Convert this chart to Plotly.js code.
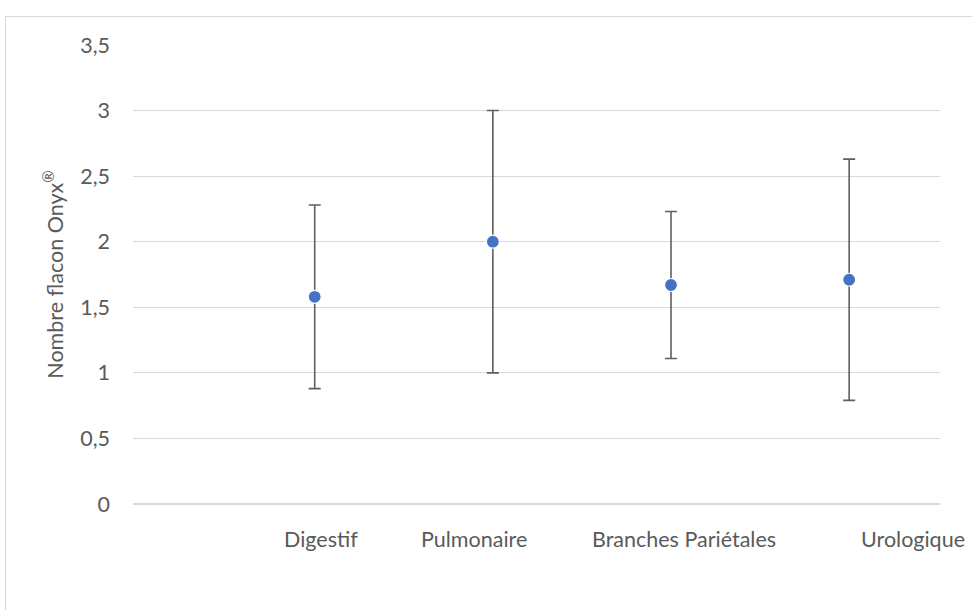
<!DOCTYPE html>
<html>
<head>
<meta charset="utf-8">
<script src="https://cdn.plot.ly/plotly-3.0.1.min.js"></script>
<style>
  html, body { margin: 0; padding: 0; background: #ffffff; }
  #wrap { position: relative; width: 972px; height: 610px; overflow: hidden; }
  #frame { position: absolute; left: 5px; top: 16px; width: 1000px; height: 700px; border: 1px solid #d9d9d9; box-sizing: border-box; }
  #chart { position: absolute; left: 0; top: 0; width: 972px; height: 610px; }
</style>
</head>
<body>
<div id="wrap">
  <div id="frame"></div>
  <div id="chart"></div>
</div>
<script>
// ---- data ----
const categories = ["Digestif", "Pulmonaire", "Branches Pariétales", "Urologique"];
const means = [1.58, 2.00, 1.67, 1.71];
const errors = [0.70, 1.00, 0.56, 0.92];
const yTickValues = [0, 0.5, 1, 1.5, 2, 2.5, 3, 3.5];

// ---- layout helpers (label placement only) ----
const labelShiftPx = [6, -19, 13, 64];
const positions = categories.map((c, i) => i + 1);

const FONT = "Lato, 'Open Sans', sans-serif";
const TXT = "#5a5a5a";
const FS = 21.5;

const trace = {
  type: "scatter",
  mode: "markers",
  x: positions,
  y: means,
  marker: { color: "#4472C4", size: 13, line: { color: "#ffffff", width: 1.2 } },
  error_y: { type: "data", array: errors, visible: true, color: "#5f5f5f", thickness: 1.6, width: 6 },
  hoverinfo: "skip",
  showlegend: false
};

const annotations = categories.map((c, i) => ({
  x: positions[i], y: 0, xref: "x", yref: "paper",
  yanchor: "top", xanchor: "center", yshift: -20, xshift: labelShiftPx[i],
  text: c, showarrow: false,
  font: { family: FONT, size: FS, color: TXT }
}));

const layout = {
  width: 972, height: 610,
  margin: { l: 133, r: 32, t: 45, b: 106, pad: 0 },
  paper_bgcolor: "rgba(0,0,0,0)",
  plot_bgcolor: "rgba(0,0,0,0)",
  separators: ", ",
  xaxis: {
    range: [-0.02, 4.51],
    showgrid: false, zeroline: false, showline: false,
    showticklabels: false, ticks: "", fixedrange: true
  },
  yaxis: {
    range: [0, 3.5],
    tickvals: yTickValues,
    tickformat: ".1~f",
    showgrid: true, gridcolor: "#d9d9d9", gridwidth: 1.2,
    zeroline: true, zerolinecolor: "#d9d9d9", zerolinewidth: 1.2,
    showline: false, ticks: "", ticklabelstandoff: 22,
    tickfont: { family: FONT, size: FS, color: TXT },
    title: { text: "Nombre flacon Onyx<sup>®</sup>", standoff: 10, font: { family: FONT, size: FS, color: TXT } },
    fixedrange: true
  },
  annotations: annotations
};

Plotly.newPlot("chart", [trace], layout, { displayModeBar: false, staticPlot: true });
</script>
</body>
</html>
